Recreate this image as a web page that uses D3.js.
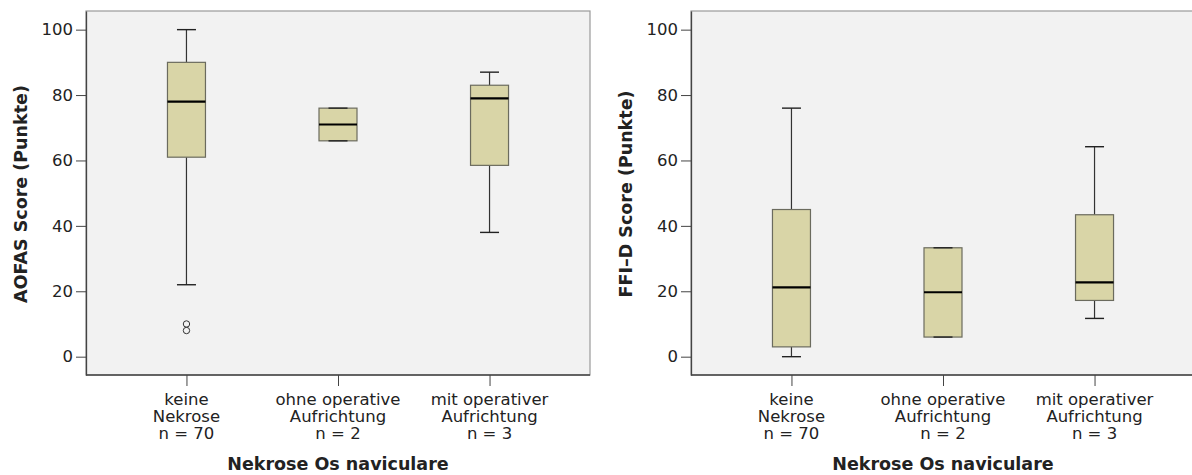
<!DOCTYPE html>
<html>
<head>
<meta charset="utf-8">
<script src="https://cdn.jsdelivr.net/npm/d3@7"></script>
<style>
  html, body { margin: 0; padding: 0; background: #fff; }
  svg { display: block; }
  text { font-family: "DejaVu Sans", sans-serif; fill: #222; }
</style>
</head>
<body>
<svg id="chart" width="1192" height="475"></svg>
<script>
// Groups (three-line category labels)
const categoryLines = [
  ["keine", "Nekrose", "n = 70"],
  ["ohne operative", "Aufrichtung", "n = 2"],
  ["mit operativer", "Aufrichtung", "n = 3"]
];
const yTicks = [0, 20, 40, 60, 80, 100];

// AOFAS score box plot statistics per group
const aofasLow    = [22, 66, 38];
const aofasQ1     = [61, 66, 58.5];
const aofasMedian = [78, 71, 79];
const aofasQ3     = [90, 76, 83];
const aofasHigh   = [100, 76, 87];
const aofasOutliers = [[10, 8], [], []];

// FFI-D score box plot statistics per group
const ffiLow    = [0, 6, 11.7];
const ffiQ1     = [3, 6, 17.2];
const ffiMedian = [21.2, 19.7, 22.7];
const ffiQ3     = [45, 33.3, 43.4];
const ffiHigh   = [76, 33.3, 64.2];
const ffiOutliers = [[], [], []];

const svg = d3.select("#chart");

function drawPanel(opts) {
  const { left, right, top, bottom, yTitle, xTitle, low, q1, med, q3, high, outliers } = opts;
  const g = svg.append("g");

  const x = d3.scalePoint()
    .domain(d3.range(categoryLines.length))
    .range([left, right])
    .padding(0.663);
  const y = d3.scaleLinear().domain([-5.6, 105.7]).range([bottom, top]);

  // plot area
  g.append("rect")
    .attr("x", left).attr("y", top)
    .attr("width", right - left).attr("height", bottom - top)
    .attr("fill", "#f2f2f2")
    .attr("stroke", "#9a9a9a").attr("stroke-width", 1.2);

  // y axis
  const yAxis = d3.axisLeft(y).tickValues(yTicks).tickSize(10).tickSizeOuter(0).tickPadding(3);
  const ya = g.append("g").attr("transform", `translate(${left},0)`).call(yAxis);
  ya.select(".domain").attr("stroke", "#444").attr("stroke-width", 1.3);
  ya.selectAll(".tick line").attr("stroke", "#444");
  ya.selectAll(".tick text")
    .attr("font-family", "DejaVu Sans, sans-serif")
    .attr("font-size", 16.5).attr("fill", "#2a2a2a");

  // x axis
  const xAxis = d3.axisBottom(x).tickSize(11).tickSizeOuter(0).tickFormat("");
  const xa = g.append("g").attr("transform", `translate(0,${bottom})`).call(xAxis);
  xa.select(".domain").attr("stroke", "#444").attr("stroke-width", 1.3).attr("d", `M${left},0H${right}`);
  xa.selectAll(".tick line").attr("stroke", "#444");

  categoryLines.forEach((lines, i) => {
    const t = g.append("text")
      .attr("x", x(i)).attr("text-anchor", "middle")
      .attr("font-size", 16.5).attr("fill", "#2a2a2a");
    lines.forEach((s, k) => {
      t.append("tspan").attr("x", x(i)).attr("y", 405 + k * 17).text(s);
    });
  });

  // boxes
  const boxW = 38, capW = 19;
  categoryLines.forEach((_, i) => {
    const cx = x(i);
    // whiskers
    g.append("line").attr("x1", cx).attr("x2", cx)
      .attr("y1", y(high[i])).attr("y2", y(q3[i]))
      .attr("stroke", "#333").attr("stroke-width", 1.2);
    g.append("line").attr("x1", cx).attr("x2", cx)
      .attr("y1", y(q1[i])).attr("y2", y(low[i]))
      .attr("stroke", "#333").attr("stroke-width", 1.2);
    // box
    g.append("rect")
      .attr("x", cx - boxW / 2).attr("y", y(q3[i]))
      .attr("width", boxW).attr("height", y(q1[i]) - y(q3[i]))
      .attr("fill", "#d9d5a7").attr("stroke", "#6b6b5e").attr("stroke-width", 1.2);
    // caps
    [high[i], low[i]].forEach(v => {
      g.append("line")
        .attr("x1", cx - capW / 2).attr("x2", cx + capW / 2)
        .attr("y1", y(v)).attr("y2", y(v))
        .attr("stroke", "#222").attr("stroke-width", 1.4);
    });
    // median
    g.append("line")
      .attr("x1", cx - boxW / 2).attr("x2", cx + boxW / 2)
      .attr("y1", y(med[i])).attr("y2", y(med[i]))
      .attr("stroke", "#000").attr("stroke-width", 2.2);
    // outliers
    outliers[i].forEach(v => {
      g.append("circle").attr("cx", cx).attr("cy", y(v)).attr("r", 3.2)
        .attr("fill", "none").attr("stroke", "#333").attr("stroke-width", 1);
    });
  });

  // axis titles
  g.append("text")
    .attr("transform", `translate(${left - 59},${(top + bottom) / 2 + 1}) rotate(-90)`)
    .attr("text-anchor", "middle")
    .attr("font-weight", "bold").attr("font-size", 17.5).attr("fill", "#111")
    .text(yTitle);
  g.append("text")
    .attr("x", (left + right) / 2).attr("y", 470)
    .attr("text-anchor", "middle")
    .attr("font-weight", "bold").attr("font-size", 17.5).attr("fill", "#111")
    .text(xTitle);
}

drawPanel({
  left: 86, right: 590, top: 11, bottom: 375,
  yTitle: "AOFAS Score (Punkte)", xTitle: "Nekrose Os naviculare",
  low: aofasLow, q1: aofasQ1, med: aofasMedian, q3: aofasQ3, high: aofasHigh, outliers: aofasOutliers
});
drawPanel({
  left: 691, right: 1195, top: 11, bottom: 375,
  yTitle: "FFI–D Score (Punkte)", xTitle: "Nekrose Os naviculare",
  low: ffiLow, q1: ffiQ1, med: ffiMedian, q3: ffiQ3, high: ffiHigh, outliers: ffiOutliers
});
</script>
</body>
</html>
